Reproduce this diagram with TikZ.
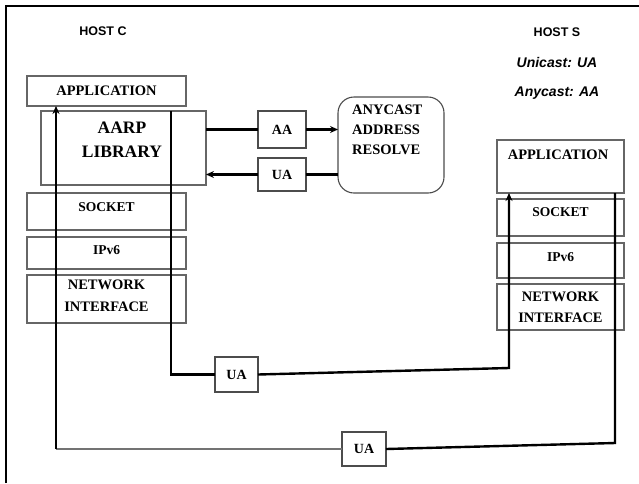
\documentclass[tikz,border=0pt]{standalone}
\usepackage{fontspec}
\setmainfont{Liberation Serif}
\newfontfamily\hsans{Liberation Sans}
\usetikzlibrary{arrows.meta}
\begin{document}
\begin{tikzpicture}[x=1pt,y=-1pt,
  box/.style={draw=black!60, line width=1.1pt, inner sep=0pt, outer sep=0pt},
  layer/.style={box, minimum width=159pt},
  layerS/.style={box, minimum width=127pt},
  tag/.style={box, draw=black!70, font=\bfseries\fontsize{14}{16}\selectfont},
  lbl/.style={font=\bfseries\fontsize{14.5}{21}\selectfont, align=center, inner sep=0pt},
  hdr/.style={font=\hsans\bfseries\fontsize{12.5}{14}\selectfont, inner sep=0pt},
  leg/.style={font=\hsans\bfseries\itshape\fontsize{14}{16}\selectfont, inner sep=0pt},
  wire/.style={line width=2.4pt},
  arr/.style={wire, -{Stealth[length=8pt,width=7pt]}}]
\useasboundingbox (0,0) rectangle (639,483);
% frame
\draw[line width=1.8pt] (6,483) -- (6,6) -- (639,6);

% headers
\node[hdr] (hostC) at (103,31) {HOST C};
\node[hdr] (hostS) at (557,32) {HOST S};
\node[leg] (uni) at (557,62) {Unicast: UA};
\node[leg] (any) at (557,93) {Anycast: AA};

% host C stack
\node[layer, minimum height=30pt] (appC) at (106.5,91) {};
\node[lbl] (appCt) at (106.5,91) {APPLICATION};
\node[box, minimum width=165pt, minimum height=74pt] (aarp) at (123.5,148) {};
\node[lbl, font=\bfseries\fontsize{17.5}{24}\selectfont] (aarpt) at (122,140) {AARP\\LIBRARY};
\node[layer, minimum height=37pt] (sockC) at (106.5,211.5) {};
\node[lbl, font=\bfseries\fontsize{13.5}{15}\selectfont] (sockCt) at (106.5,207) {SOCKET};
\node[layer, minimum height=32pt] (ipC) at (106.5,253) {};
\node[lbl, font=\bfseries\fontsize{13.5}{15}\selectfont] (ipCt) at (106.5,250) {IPv6};
\node[layer, minimum height=48pt] (netC) at (106.5,299) {};
\node[lbl, font=\bfseries\fontsize{14.5}{22}\selectfont] (netCt) at (106.5,296) {NETWORK\\INTERFACE};

% resolver
\node[tag, minimum width=48pt, minimum height=37pt] (AA) at (282,129.5) {AA};
\node[tag, minimum width=48pt, minimum height=33pt] (UAt) at (282,174.5) {UA};
\node[box, draw=black!70, rounded corners=16pt, minimum width=106pt, minimum height=96pt] (res) at (391,145) {};
\node[lbl, align=left, anchor=north west, font=\bfseries\fontsize{14.5}{20}\selectfont] (rest) at (352,105) {ANYCAST\\ADDRESS\\RESOLVE};

% host S stack
\node[layerS, minimum height=53pt] (appS) at (560.5,166.5) {};
\node[lbl] (appSt) at (558,155) {APPLICATION};
\node[layerS, minimum height=37pt] (sockS) at (560.5,217.5) {};
\node[lbl, font=\bfseries\fontsize{13.5}{15}\selectfont] (sockSt) at (560.5,212) {SOCKET};
\node[layerS, minimum height=35pt] (ipS) at (560.5,260.5) {};
\node[lbl, font=\bfseries\fontsize{13.5}{15}\selectfont] (ipSt) at (560.5,257) {IPv6};
\node[layerS, minimum height=46pt] (netS) at (560.5,307) {};
\node[lbl, font=\bfseries\fontsize{14.5}{21}\selectfont] (netSt) at (560.5,307.5) {NETWORK\\INTERFACE};

% UA boxes on the paths
\node[tag, minimum width=43pt, minimum height=35pt] (UAm) at (236.5,374.5) {UA};
\node[tag, minimum width=44pt, minimum height=34pt] (UAb) at (364,449) {UA};

% coordinates for path corners
\coordinate (c1) at (171,374.5);
\coordinate (c2) at (509,368);
\coordinate (c3) at (615,443);
\coordinate (c4) at (56,449);

% AARP <-> resolver
\draw[wire] (aarp.east |- AA.west) -- (AA.west);
\draw[arr] (AA.east) -- (AA.east -| res.west);
\draw[wire] (res.west |- UAt.east) -- (UAt.east);
\draw[arr] (UAt.west) -- (UAt.west -| aarp.east);

% C -> S path
\draw[wire] (aarp.north -| c1) -- (c1) -- (UAm.west);
\draw[arr] (UAm.east) -- (c2) -- (c2 |- appS.south);

% S -> C path
\draw[wire] (appS.south -| c3) -- (c3) -- (UAb.east);
\draw[draw=black!55, line width=1.6pt] (UAb.west) -- (c4);
\draw[arr] (c4) -- (c4 |- appC.south);
\end{tikzpicture}
\end{document}
